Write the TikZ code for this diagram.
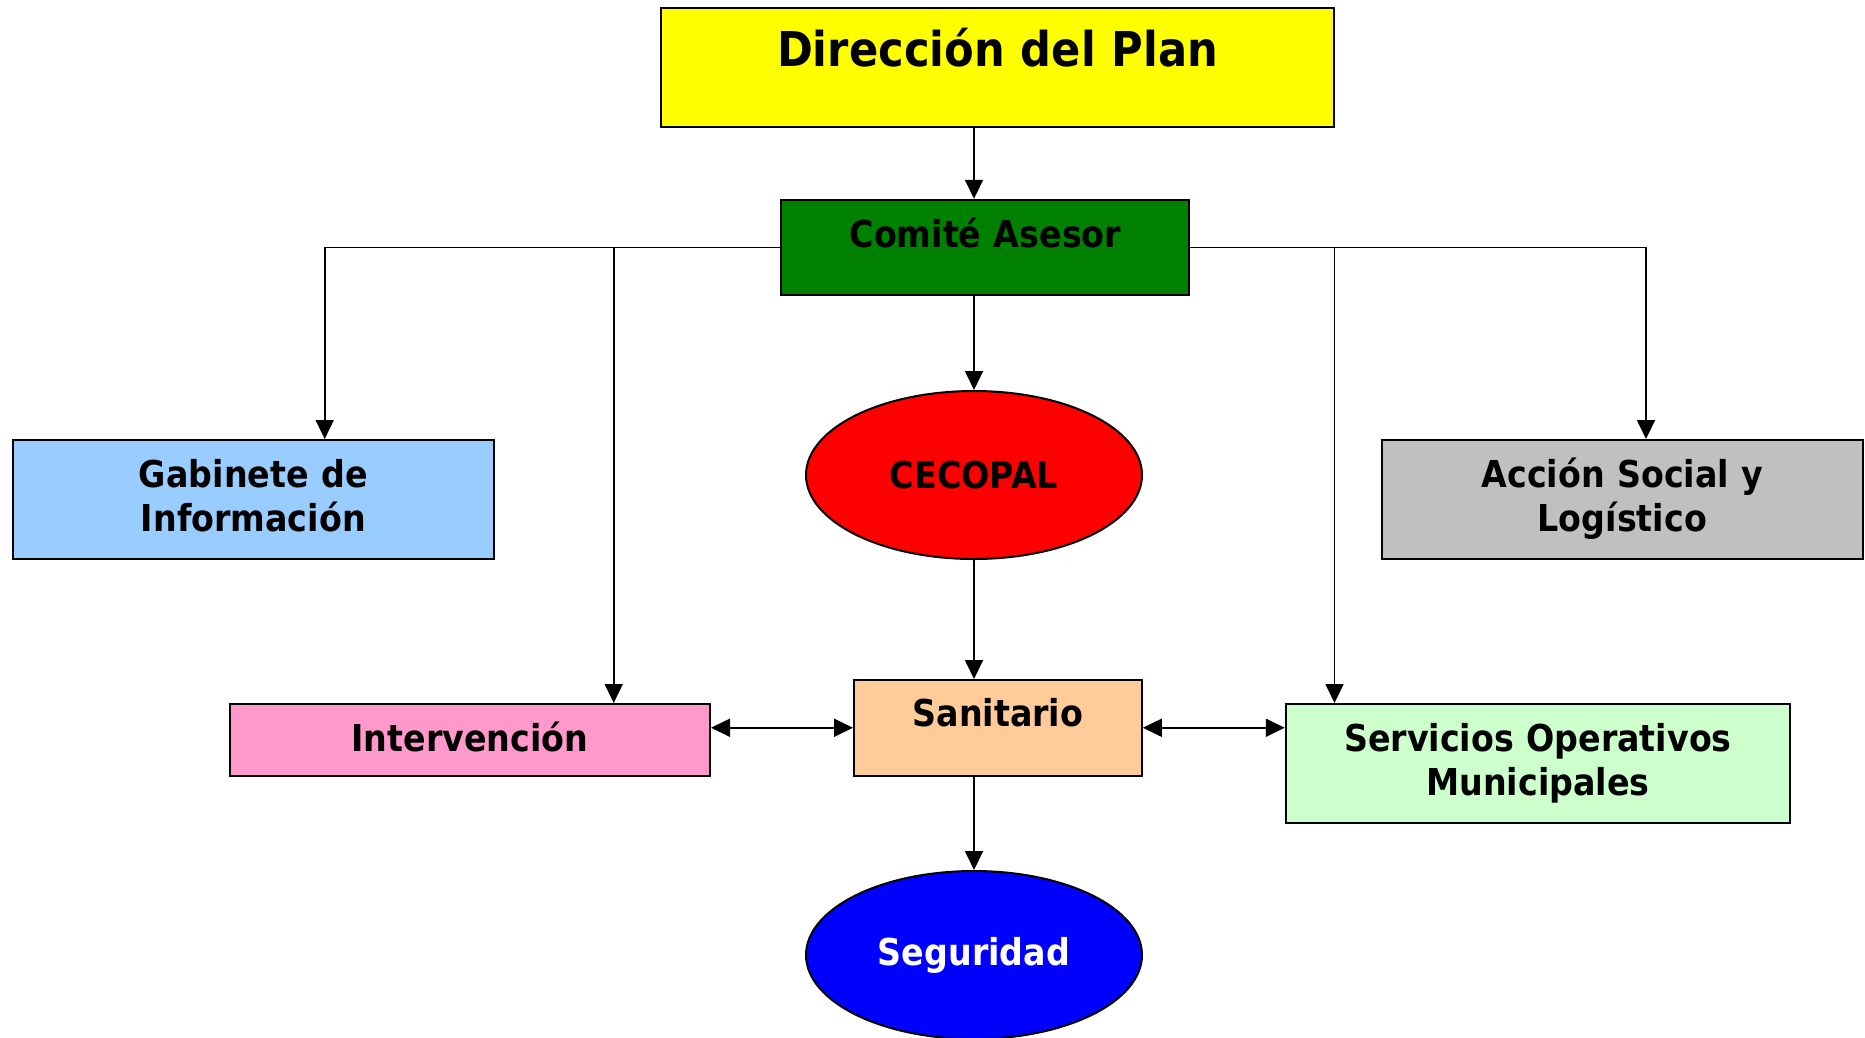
\documentclass[tikz,border=0pt]{standalone}
\usepackage{fontspec}
\setmainfont{DejaVu Sans}[FakeStretch=0.9]
\usetikzlibrary{shapes.geometric,arrows.meta}

\definecolor{amarillo}{HTML}{FFFF00}
\definecolor{verdecomite}{HTML}{008000}
\definecolor{azulgabinete}{HTML}{99CCFF}
\definecolor{grisaccion}{HTML}{C0C0C0}
\definecolor{rojocecopal}{HTML}{FF0000}
\definecolor{rosainterv}{HTML}{FF99CC}
\definecolor{melocoton}{HTML}{FFCC99}
\definecolor{verdeclaro}{HTML}{CCFFCC}
\definecolor{azulseguridad}{HTML}{0000FF}

\tikzset{
	caja/.style={draw=black, line width=2pt, inner sep=0pt, align=center, anchor=base, font=\bfseries\fontsize{37}{44}\selectfont},
	elipse/.style={ellipse, draw=black, line width=2pt, inner sep=0pt, minimum width=336pt, minimum height=168pt, font=\bfseries\fontsize{37}{44}\selectfont},
	flecha/.style={-{Triangle[length=19pt,width=18pt]}, line width=1.8pt},
	dobleflecha/.style={{Triangle[length=19pt,width=18pt]}-{Triangle[length=19pt,width=18pt]}, line width=1.8pt}
}

\begin{document}
\begin{tikzpicture}[x=1pt, y=-1pt]
	\useasboundingbox (0,0) rectangle (1865,1037);
	\node[caja, fill=amarillo, text width=673.5pt, text height=58.4pt, text depth=60.6pt, font=\bfseries\fontsize{48}{56}\selectfont] (direccion) at (997.7,66.7) {Dirección del Plan};
	\node[caja, fill=verdecomite, text width=408pt, text height=47.2pt, text depth=48pt] (comite) at (985.4,247) {Comité Asesor};
	\node[caja, fill=azulgabinete, text width=480.6pt, text height=47pt, text depth=72pt] (gabinete) at (253.3,487) {Gabinete de\\Información};
	\node[caja, fill=grisaccion, text width=480.6pt, text height=47pt, text depth=72pt] (accion) at (1622.3,487) {Acción Social y\\Logístico};
	\node[elipse, fill=rojocecopal] (cecopal) at (974,475) {CECOPAL};
	\node[caja, fill=rosainterv, text width=480.4pt, text height=47.7pt, text depth=23.8pt] (intervencion) at (469.8,751.7) {Intervención};
	\node[caja, fill=melocoton, text width=287.8pt, text height=46.7pt, text depth=48.8pt] (sanitario) at (997.9,726.7) {Sanitario};
	\node[caja, fill=verdeclaro, text width=504.3pt, text height=47.7pt, text depth=71.3pt] (servicios) at (1537.9,751.7) {Servicios Operativos\\Municipales};
	\node[elipse, fill=azulseguridad, text=white] (seguridad) at (974,955) {Seguridad};

	%% puntos de bajada
	\coordinate (eje) at (974,0);
	\coordinate (xgab) at (324.7,0);
	\coordinate (xint) at (613.7,0);
	\coordinate (xserv) at (1334.5,0);
	\coordinate (xacc) at (1646,0);

	\draw[flecha] (direccion.south -| eje) -- (comite.north -| eje);
	\draw[flecha] (comite.south -| eje) -- (cecopal.north);
	\draw[flecha] (cecopal.south) -- (sanitario.north -| eje);
	\draw[flecha] (sanitario.south -| eje) -- (seguridad.north);
	\draw[flecha] (comite.west) -| (xgab |- gabinete.north);
	\draw[flecha] (comite.west -| xint) -- (xint |- intervencion.north);
	\draw[flecha] (comite.east) -| (xacc |- accion.north);
	\draw[flecha] (comite.east -| xserv) -- (xserv |- servicios.north);
	\draw[dobleflecha] (intervencion.east |- sanitario.west) -- (sanitario.west);
	\draw[dobleflecha] (sanitario.east) -- (servicios.west |- sanitario.east);
\end{tikzpicture}
\end{document}
